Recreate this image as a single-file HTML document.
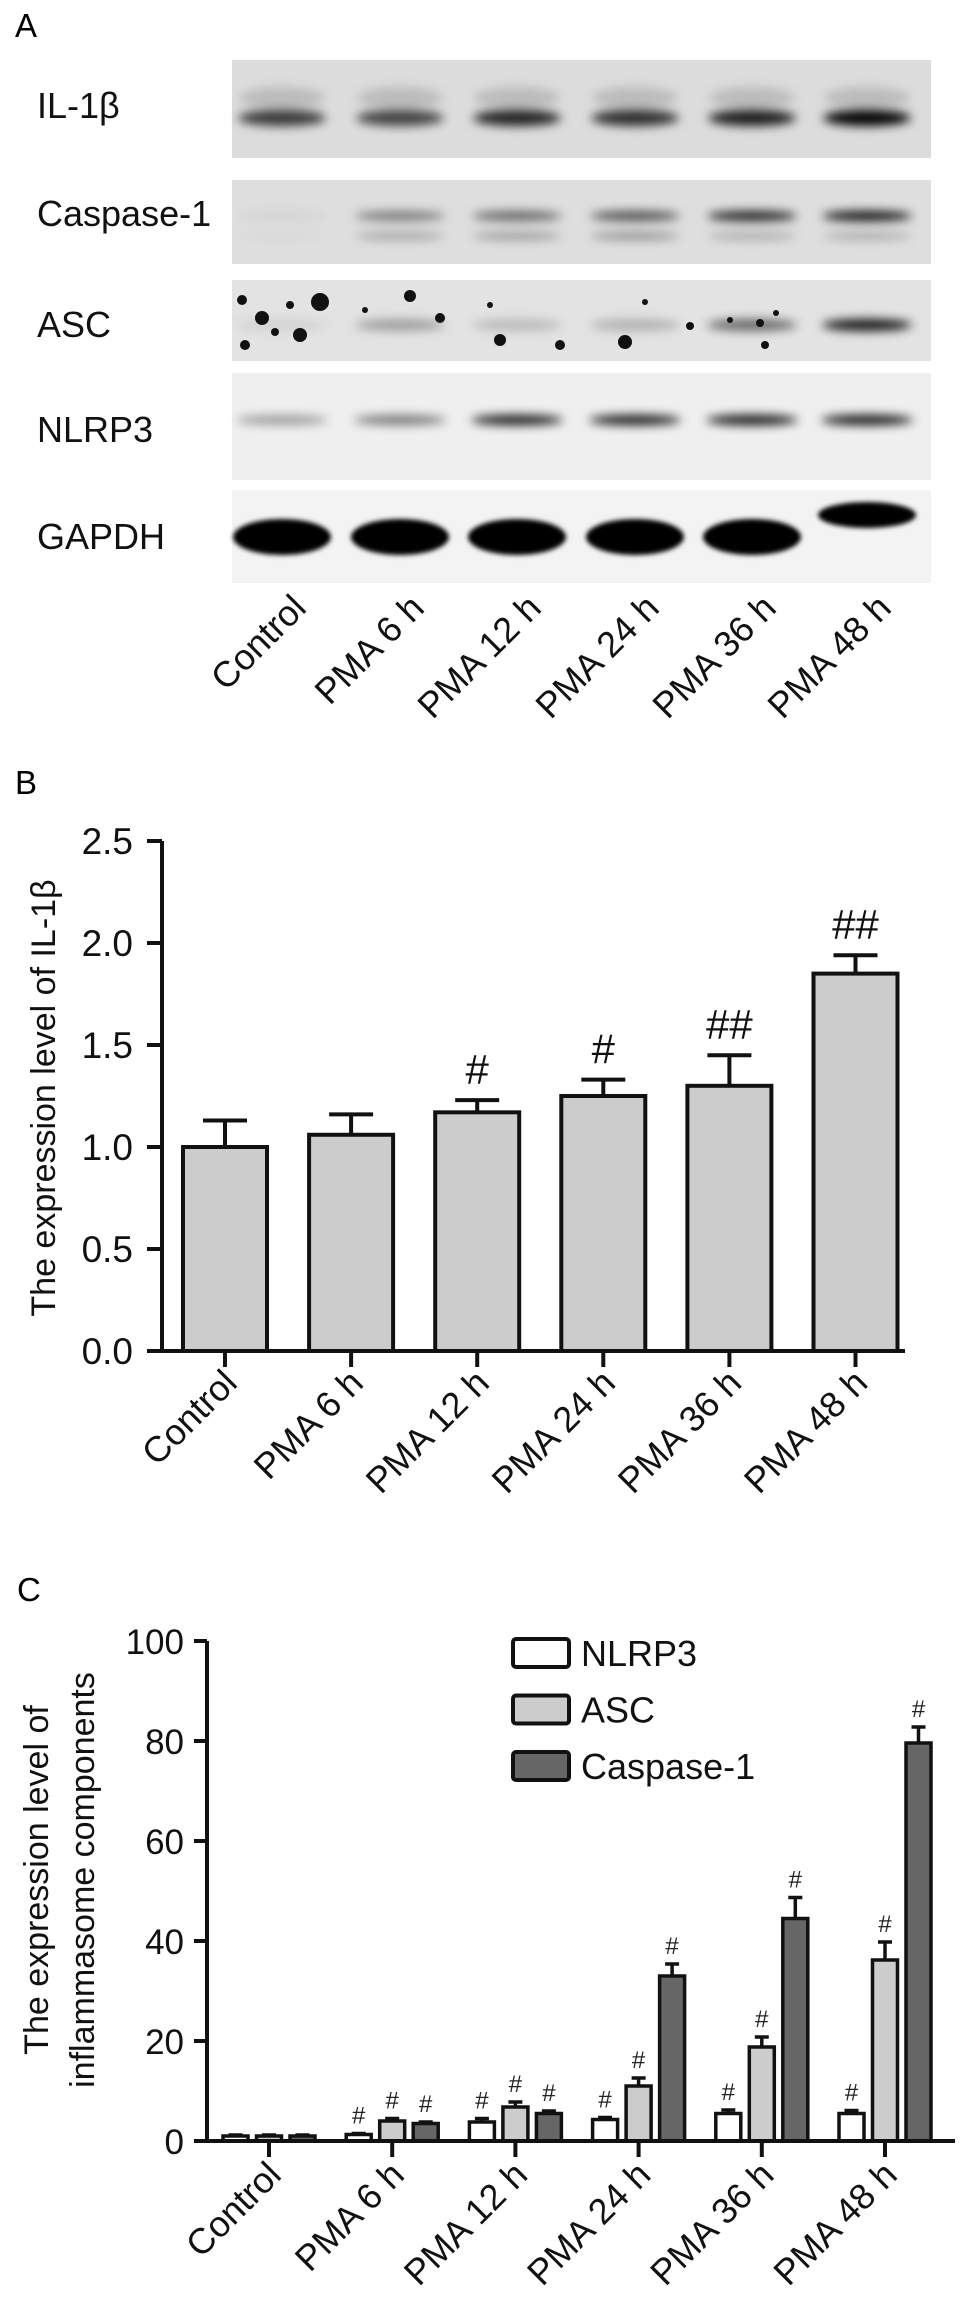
<!DOCTYPE html>
<html><head><meta charset="utf-8"><style>
html,body{margin:0;padding:0;background:#fff;}
svg{display:block;font-family:"Liberation Sans",Arial,sans-serif;}
</style></head><body>
<svg id="fig" width="969" height="2311" viewBox="0 0 969 2311" xmlns="http://www.w3.org/2000/svg">
<defs>
<filter id="blur" x="-30%" y="-100%" width="160%" height="300%"><feGaussianBlur stdDeviation="5"/></filter>
<filter id="blur2" x="-30%" y="-100%" width="160%" height="300%"><feGaussianBlur stdDeviation="2.5"/></filter>
</defs>
<text x="15" y="37" font-size="33">A</text>
<g id="blots"></g>
<text x="15" y="794" font-size="33">B</text>
<g id="chartB"></g>
<text x="17" y="1601" font-size="33">C</text>
<g id="chartC"></g>
</svg>
<script>
const NS="http://www.w3.org/2000/svg";
// ---------- data ----------
const groups=["Control","PMA 6 h","PMA 12 h","PMA 24 h","PMA 36 h","PMA 48 h"];
const il1bValues=[1.0,1.06,1.17,1.25,1.30,1.85];
const il1bErrors=[0.13,0.10,0.06,0.08,0.15,0.09];
const il1bSig=["","","#","#","##","##"];
const bTicks=[0.0,0.5,1.0,1.5,2.0,2.5];
const bTickLabels=["0.0","0.5","1.0","1.5","2.0","2.5"];
const cSeries=["NLRP3","ASC","Caspase-1"];
const nlrp3Values=[1.0,1.3,3.8,4.3,5.5,5.5];
const nlrp3Errors=[0.2,0.2,0.7,0.4,0.7,0.6];
const ascValues=[1.0,4.0,6.8,11.0,18.8,36.2];
const ascErrors=[0.2,0.5,1.0,1.6,2.0,3.6];
const caspValues=[1.0,3.5,5.5,33.0,44.5,79.6];
const caspErrors=[0.2,0.3,0.5,2.4,4.2,3.2];
const cSig=[["","",""],["#","#","#"],["#","#","#"],["#","#","#"],["#","#","#"],["#","#","#"]];
const cTicks=[0,20,40,60,80,100];
const cTickLabels=["0","20","40","60","80","100"];
const blotNames=["IL-1β","Caspase-1","ASC","NLRP3","GAPDH"];
const il1bBand=[0.75,0.7,0.85,0.8,0.88,1.0];
const caspUpper=[0.05,0.45,0.55,0.65,0.88,0.95];
const caspLower=[0.03,0.35,0.4,0.45,0.3,0.3];
const ascBand=[0.08,0.3,0.18,0.22,0.55,0.92];
const nlrp3Band=[0.35,0.5,0.92,0.92,0.95,0.95];
const gapdhBand=[1,1,1,1,1,1];

function mk(tag,attrs,parent){const e=document.createElementNS(NS,tag);for(const k in attrs)e.setAttribute(k,attrs[k]);parent.appendChild(e);return e;}

// ---------- Panel A: blots ----------
(function(){
 const g=document.getElementById('blots');
 const stripX=232, stripW=699;
 const strips=[[60,98,'#dcdcdc'],[180,84,'#dedede'],[280,81,'#e3e3e3'],[373,107,'#efefef'],[490,93,'#f3f3f3']];
 const labelY=[118,226,337,442,549];
 const lanes=[282,400,517,635,752,867];
 strips.forEach((s,i)=>{
  const r=mk('rect',{x:stripX,y:s[0],width:stripW,height:s[1],fill:s[2]},g);
  
  
  const t=mk('text',{x:37,y:labelY[i],'font-size':36,fill:'#111'},g);
  t.textContent=blotNames[i];
  
  
 });
 function band(cx,cy,w,h,a,f){
  const e=mk('ellipse',{cx:cx,cy:cy,rx:w/2,ry:h/2,fill:'#000','fill-opacity':a,filter:f||'url(#blur)'},g);
  
  
 }
 lanes.forEach((x,i)=>{
  band(x,98,85,22,0.15);
  band(x,118,88,16,il1bBand[i]);
  band(x,216,90,10,caspUpper[i]);
  band(x,236,88,9,caspLower[i]*0.7);
  band(x,325,90,12,ascBand[i]);
  band(x,420,92,10,nlrp3Band[i]);
  band(x,i==5?515:537,98,i==5?26:36,gapdhBand[i],'url(#blur2)');
 });
 const specks=[[242,300,5],[262,318,7],[275,332,4],[245,345,5],[290,305,4],[300,335,7],[320,302,9],[365,310,3],[410,296,6],[440,318,5],[490,305,3],[500,340,6],[560,345,5],[625,342,7],[645,302,3],[690,326,4],[730,320,3],[760,323,4],[776,313,3],[765,345,4]];
 specks.forEach(p=>{const c=mk('circle',{cx:p[0],cy:p[1],r:p[2],fill:'#111'},g);});
 lanes.forEach((x,i)=>{
  const t=mk('text',{x:0,y:0,'font-size':36,'text-anchor':'end',fill:'#111',transform:`translate(${x+26},610) rotate(-45)`},g);
  t.textContent=groups[i];
  
  
 });
})();

// ---------- Panel B ----------
(function(){
 const g=document.getElementById('chartB');
 const axX=162, y0=1351, pxPerUnit=204;
 const yS=v=>y0-v*pxPerUnit;
 const xC=i=>225+i*126.1;
 const bw=84;
 bTicks.forEach((t,i)=>{
  const l=mk('line',{x1:axX-15,x2:axX,y1:yS(t),y2:yS(t),stroke:'#111','stroke-width':4},g);
  
  
  const tx=mk('text',{x:133,y:yS(t)+13,'font-size':37,'text-anchor':'end',fill:'#111'},g);
  tx.textContent=bTickLabels[i];
  
  
 });
 il1bValues.forEach((v,i)=>{
  const cx=xC(i);
  const et=yS(v+il1bErrors[i]);
  const el=mk('path',{d:`M${cx},${yS(v)} V${et} M${cx-22},${et} H${cx+22}`,stroke:'#111','stroke-width':4,fill:'none'},g);
  
  
  const r=mk('rect',{x:cx-bw/2,y:yS(v),width:bw,height:y0-yS(v),fill:'#cccccc',stroke:'#111','stroke-width':4},g);
  
  
  if(il1bSig[i]){
   const s=mk('text',{x:cx,y:et-16,'font-size':42,'text-anchor':'middle',fill:'#111'},g);
   s.textContent=il1bSig[i];
   
   
  }
  const tk=mk('line',{x1:cx,x2:cx,y1:y0,y2:y0+16,stroke:'#111','stroke-width':4},g);
  
  
  const t=mk('text',{x:0,y:0,'font-size':36,'text-anchor':'end',fill:'#111',transform:`translate(${cx+14},${y0+34}) rotate(-45)`},g);
  t.textContent=groups[i];
  
  
 });
 const ax=mk('path',{d:`M${axX},${yS(2.5)} V${y0} M${axX-15},${y0} H905`,stroke:'#111','stroke-width':4,fill:'none'},g);
 
 
 const yl=mk('text',{x:0,y:0,'font-size':34,'text-anchor':'middle',fill:'#111',transform:`translate(55,1098) rotate(-90)`},g);
 yl.textContent='The expression level of IL-1β';
 
 
})();

// ---------- Panel C ----------
(function(){
 const g=document.getElementById('chartC');
 const axX=207, y0=2141, ppu=5;
 const yS=v=>y0-v*ppu;
 const xC=i=>269+i*123.2;
 const offs=[-33.5,0,33.5];
 const bw=25;
 const fills=['#ffffff','#cccccc','#666666'];
 const vals=[nlrp3Values,ascValues,caspValues];
 const errs=[nlrp3Errors,ascErrors,caspErrors];
 cTicks.forEach((t,i)=>{
  const l=mk('line',{x1:axX-13,x2:axX,y1:yS(t),y2:yS(t),stroke:'#111','stroke-width':4},g);
  
  
  const tx=mk('text',{x:184,y:yS(t)+13,'font-size':35,'text-anchor':'end',fill:'#111'},g);
  tx.textContent=cTickLabels[i];
  
  
 });
 groups.forEach((grp,i)=>{
  const gc=xC(i);
  vals.forEach((arr,s)=>{
   const cx=gc+offs[s], v=arr[i], et=yS(v+errs[s][i]);
   const el=mk('path',{d:`M${cx},${yS(v)} V${et} M${cx-7},${et} H${cx+7}`,stroke:'#111','stroke-width':3.5,fill:'none'},g);
   
   
   const r=mk('rect',{x:cx-bw/2,y:yS(v),width:bw,height:y0-yS(v),fill:fills[s],stroke:'#111','stroke-width':3.5},g);
   
   
   if(cSig[i][s]){
    const t=mk('text',{x:cx,y:et-10,'font-size':24,'text-anchor':'middle',fill:'#222'},g);
    t.textContent=cSig[i][s];
    
    
   }
  });
  const tk=mk('line',{x1:gc,x2:gc,y1:y0,y2:y0+16,stroke:'#111','stroke-width':4},g);
  
  
  const t=mk('text',{x:0,y:0,'font-size':36,'text-anchor':'end',fill:'#111',transform:`translate(${gc+14},${y0+36}) rotate(-45)`},g);
  t.textContent=grp;
  
  
 });
 const ax=mk('path',{d:`M${axX},${yS(100)} V${y0} M${axX-13},${y0} H955`,stroke:'#111','stroke-width':4,fill:'none'},g);
 
 
 cSeries.forEach((n,s)=>{
  const y=1639+s*56.5;
  const r=mk('rect',{x:513,y:y,width:56,height:28,rx:3,fill:fills[s],stroke:'#111','stroke-width':4},g);
  
  
  const t=mk('text',{x:581,y:y+27,'font-size':36,fill:'#111'},g);
  t.textContent=n;
  
  
 });
 const l1=mk('text',{x:0,y:0,'font-size':34,'text-anchor':'middle',fill:'#111',transform:`translate(48,1880) rotate(-90)`},g);
 l1.textContent='The expression level of';
 
 
 const l2=mk('text',{x:0,y:0,'font-size':34,'text-anchor':'middle',fill:'#111',transform:`translate(94,1880) rotate(-90)`},g);
 l2.textContent='inflammasome components';
 
 
})();
</script>
</body></html>
